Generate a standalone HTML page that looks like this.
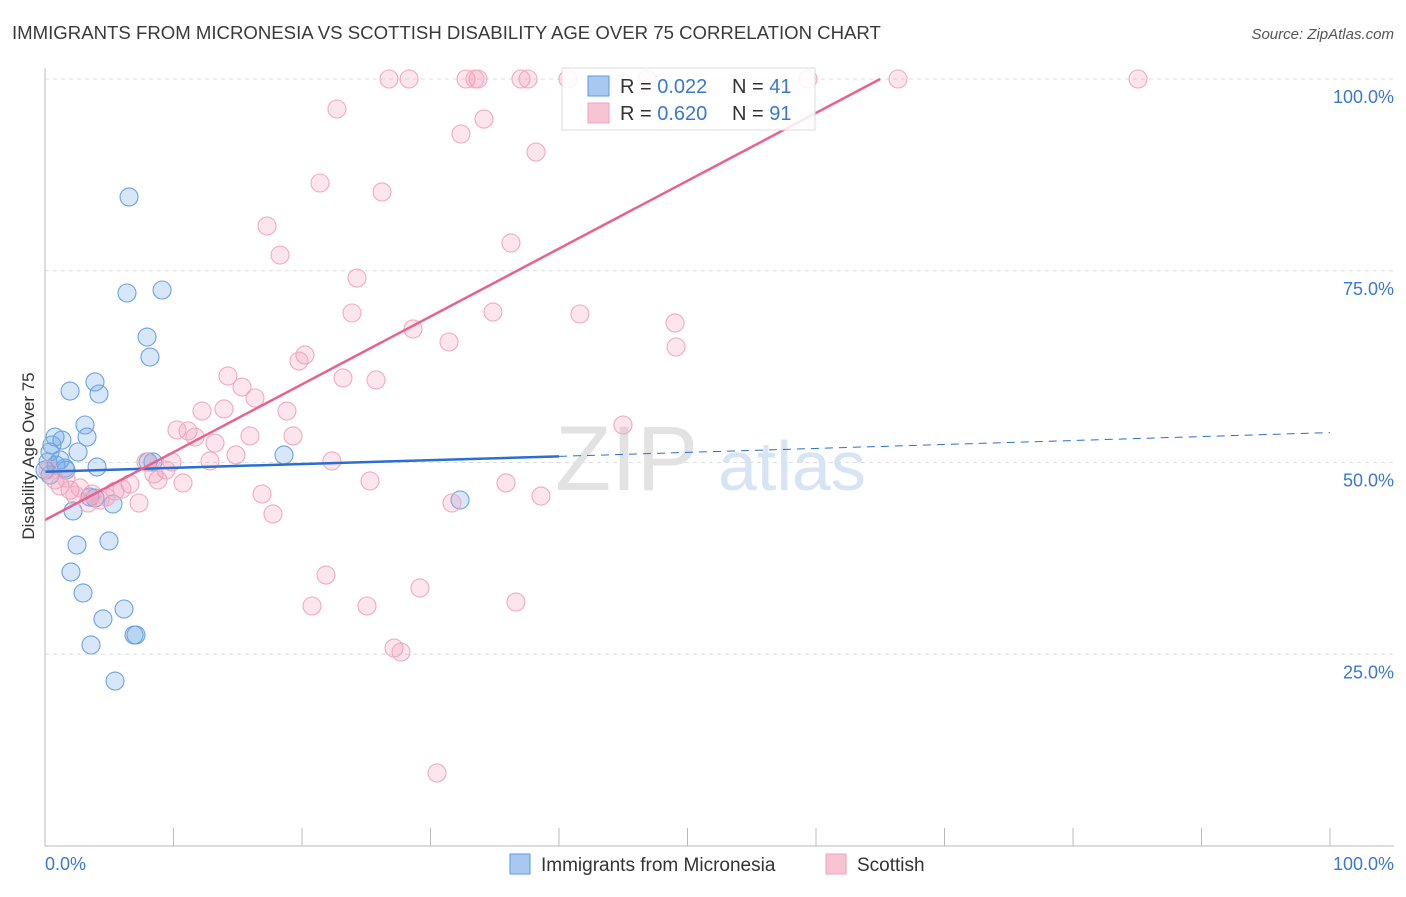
<!DOCTYPE html>
<html><head><meta charset="utf-8"><style>
body{margin:0;background:#fff;font-family:"Liberation Sans",sans-serif;}
svg text{font-family:"Liberation Sans",sans-serif;}
</style></head><body>
<svg id="c" width="1406" height="892">
<text x="12" y="39" font-size="18.6" fill="#3a3a3a">IMMIGRANTS FROM MICRONESIA VS SCOTTISH DISABILITY AGE OVER 75 CORRELATION CHART</text>
<text x="1394" y="39" font-size="15" fill="#555" font-style="italic" text-anchor="end">Source: ZipAtlas.com</text>
<g id="grid"></g>
<g><text x="555" y="490" font-size="92" fill="#e2e2e2" font-family="Liberation Serif">ZIP</text><text x="718" y="490" font-size="70" fill="#d6e4f5">atlas</text></g>
<g id="pts"></g>
<g id="lines"></g>
<line x1="45" y1="68" x2="45" y2="846" stroke="#bbb"/>
<line x1="45" y1="846" x2="1394" y2="846" stroke="#bbb"/>
<g id="ticks"></g>
<text x="34" y="456" font-size="17" fill="#333" text-anchor="middle" transform="rotate(-90 34 456)">Disability Age Over 75</text>
<text x="45" y="870" font-size="18" fill="#3a78d0">0.0%</text>
<text x="1394" y="870" font-size="18" fill="#3a78d0" text-anchor="end">100.0%</text>
<g>
<rect x="562" y="68" width="253" height="62" fill="#fff" fill-opacity="0.85" stroke="#ddd"/>
<rect x="588" y="76" width="21" height="20" fill="#a9c8f0" stroke="#5a9ae0"/>
<rect x="588" y="103" width="21" height="20" fill="#f8c4d4" stroke="#eea0b8"/>
<text x="620" y="93" font-size="20" fill="#333">R = <tspan fill="#3a78d0">0.022</tspan></text>
<text x="732" y="93" font-size="20" fill="#333">N = <tspan fill="#3a78d0">41</tspan></text>
<text x="620" y="120" font-size="20" fill="#333">R = <tspan fill="#3a78d0">0.620</tspan></text>
<text x="732" y="120" font-size="20" fill="#333">N = <tspan fill="#3a78d0">91</tspan></text>
</g>
<g>
<rect x="510" y="854" width="20" height="20" fill="#a9c8f0" stroke="#5a9ae0"/>
<text x="541" y="871" font-size="19" fill="#333">Immigrants from Micronesia</text>
<rect x="826" y="854" width="20" height="20" fill="#f8c4d4" stroke="#eea0b8"/>
<text x="857" y="871" font-size="19" fill="#333">Scottish</text>
</g>
</svg>
<script>
const yTicks=[25,50,75,100];
const yTickLabels=["25.0%","50.0%","75.0%","100.0%"];
const xTicks=[10,20,30,40,50,60,70,80,90,100];
const bluePx=[[129,197],[127,293],[162,290],[147,337],[150,357],[70,391],[95,382],[99,394],[85,425],[87,437],[55,437],[62,440],[78,452],[97,467],[50,452],[48,462],[56,465],[65,468],[50,475],[153,462],[148,462],[284,455],[460,500],[95,498],[113,504],[73,511],[77,545],[109,541],[71,572],[83,593],[124,609],[103,619],[136,635],[134,635],[91,645],[115,681],[60,460],[45,470],[66,470],[90,497],[52,445]];
const pinkPx=[[389,79],[409,79],[466,79],[478,79],[521,79],[528,79],[568,79],[647,79],[808,79],[898,79],[1138,79],[475,79],[337,109],[484,119],[461,134],[536,152],[320,183],[382,192],[267,226],[280,255],[511,243],[357,278],[352,313],[493,312],[580,314],[413,329],[449,342],[675,323],[676,347],[305,355],[299,361],[228,376],[242,387],[343,378],[376,380],[255,398],[224,409],[202,411],[287,411],[623,425],[177,430],[188,431],[195,437],[250,436],[293,436],[215,443],[236,455],[210,461],[172,462],[146,462],[166,470],[332,461],[154,474],[183,483],[158,480],[370,481],[506,483],[130,484],[262,494],[541,496],[122,489],[115,491],[452,503],[139,503],[88,503],[100,500],[106,497],[273,514],[326,575],[312,606],[367,606],[420,588],[516,602],[394,648],[401,652],[437,773],[60,486],[70,490],[80,488],[55,480],[66,478],[75,495],[92,494],[48,470]];
const blueX=bluePx.map(p=>+((p[0]-45)/12.85).toFixed(2)), blueY=bluePx.map(p=>+((846-p[1])/7.67).toFixed(2));
const pinkX=pinkPx.map(p=>+((p[0]-45)/12.85).toFixed(2)), pinkY=pinkPx.map(p=>+((846-p[1])/7.67).toFixed(2));
const blueTrend=[[0,48.8],[40,50.8],[100,53.9]];
const pinkTrend=[[0,42.5],[65,100]];
const X=v=>45+v*12.85, Y=v=>846-v*7.67;
const NS="http://www.w3.org/2000/svg";
function mk(t,a,p){const e=document.createElementNS(NS,t);for(const k in a)e.setAttribute(k,a[k]);p.appendChild(e);return e;}
const grid=document.getElementById('grid'),ticks=document.getElementById('ticks');
yTicks.forEach((v,i)=>{const l=mk('line',{x1:45,x2:1394,y1:Y(v),y2:Y(v),stroke:'#ddd','stroke-dasharray':'4,4'},grid);


const t=mk('text',{x:1394,y:Y(v)+24,'font-size':18,fill:'#3a78d0','text-anchor':'end'},ticks);t.textContent=yTickLabels[i];

});
xTicks.forEach(v=>{const l=mk('line',{x1:X(v),x2:X(v),y1:828,y2:846,stroke:'#bbb'},ticks);

});
const pts=document.getElementById('pts');
blueX.forEach((x,i)=>{const c=mk('circle',{cx:X(x),cy:Y(blueY[i]),r:9,fill:'rgba(110,165,230,0.28)',stroke:'#6aa3e2','stroke-width':1.1},pts);

});
pinkX.forEach((x,i)=>{const c=mk('circle',{cx:X(x),cy:Y(pinkY[i]),r:9,fill:'rgba(242,150,180,0.25)',stroke:'#f0aac0','stroke-width':1.1},pts);

});
const lines=document.getElementById('lines');
let b1=mk('line',{x1:X(blueTrend[0][0]),y1:Y(blueTrend[0][1]),x2:X(blueTrend[1][0]),y2:Y(blueTrend[1][1]),stroke:'#2a6fd0','stroke-width':2.5},lines);


let b2=mk('line',{x1:X(blueTrend[1][0]),y1:Y(blueTrend[1][1]),x2:X(blueTrend[2][0]),y2:Y(blueTrend[2][1]),stroke:'#2a6fd0','stroke-width':1,'stroke-dasharray':'8,6'},lines);


let p1=mk('line',{x1:X(pinkTrend[0][0]),y1:Y(pinkTrend[0][1]),x2:X(pinkTrend[1][0]),y2:Y(pinkTrend[1][1]),stroke:'#e8628e','stroke-width':2.5},lines);


</script>
</body></html>
